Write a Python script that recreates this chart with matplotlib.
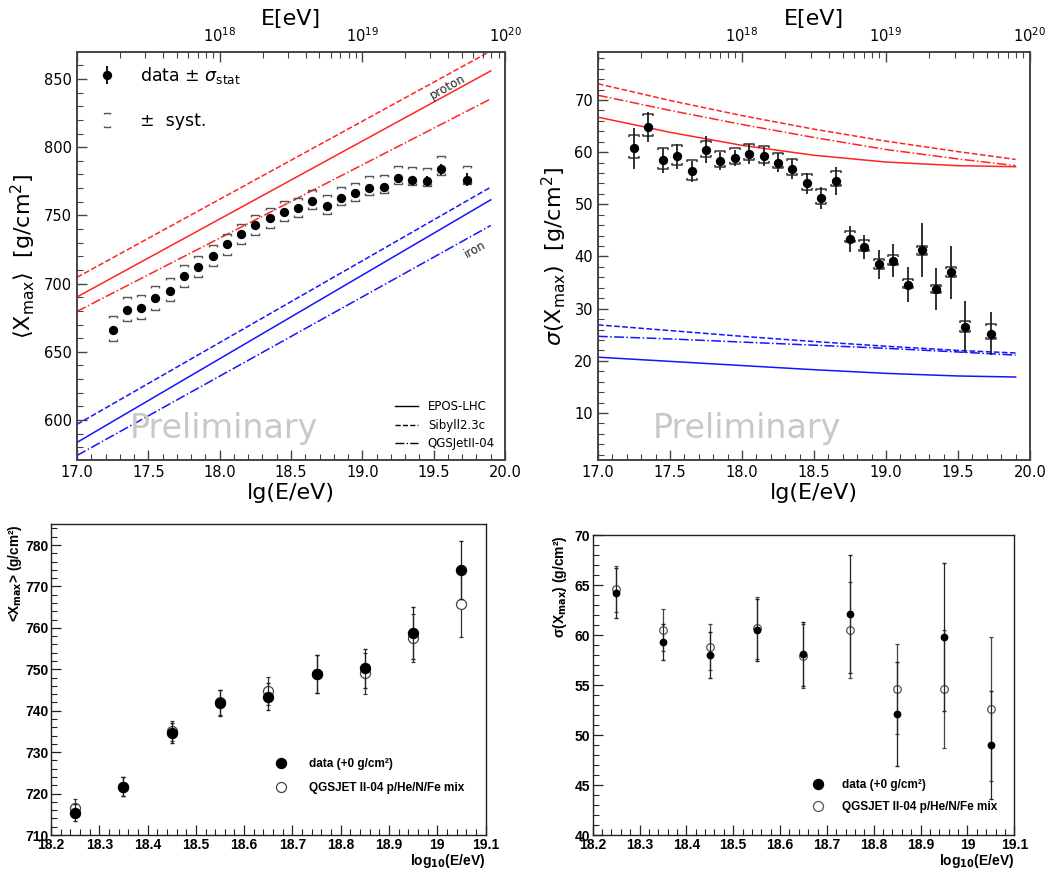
import numpy as np
import matplotlib
matplotlib.use('Agg')
import matplotlib.pyplot as plt
from matplotlib.path import Path
from matplotlib.markers import MarkerStyle
from matplotlib.lines import Line2D
from matplotlib.legend_handler import HandlerTuple
from matplotlib.ticker import MultipleLocator, FormatStrFormatter, FixedLocator

# ---------------- data: top panels ----------------
lg_E = [17.25, 17.35, 17.45, 17.55, 17.65, 17.75, 17.85, 17.95, 18.05, 18.15,
        18.25, 18.35, 18.45, 18.55, 18.65, 18.75, 18.85, 18.95, 19.05, 19.15,
        19.25, 19.35, 19.45, 19.55, 19.73]
xmax_mean = [665.9, 680.5, 682.4, 689.3, 694.9, 705.4, 712.4, 720.5, 728.8, 736.1,
             742.7, 748.0, 752.7, 755.2, 760.6, 757.0, 763.1, 766.1, 770.0, 770.5,
             777.1, 776.1, 775.4, 783.7, 776.1]
xmax_stat = [1.0, 1.0, 1.0, 1.0, 1.0, 1.0, 1.1, 1.1, 1.2, 1.3,
             1.4, 1.5, 1.6, 1.7, 1.8, 2.0, 2.1, 2.2, 2.4, 2.6,
             3.0, 3.0, 3.4, 3.8, 4.6]
xmax_sys_up = [10.2, 9.7, 9.1, 8.7, 9.0, 8.0, 7.6, 7.5, 7.5, 7.8,
               7.4, 7.6, 7.5, 7.5, 7.7, 8.1, 8.0, 7.8, 8.5, 8.8,
               8.8, 9.0, 9.3, 9.5, 10.0]
xmax_sys_lo = [8.3, 8.1, 8.0, 8.3, 7.8, 7.8, 7.3, 7.6, 7.6, 7.4,
               7.1, 7.0, 6.8, 6.4, 6.0, 5.8, 5.4, 5.4, 5.0, 4.2,
               4.4, 4.1, 3.9, 3.9, 3.2]

sigma = [60.7, 64.8, 58.4, 59.2, 56.3, 60.5, 58.3, 58.9, 59.7, 59.2,
         58.0, 56.7, 54.0, 51.2, 54.5, 43.4, 41.9, 38.5, 39.2, 34.6,
         41.2, 33.8, 37.0, 26.5, 25.2]
sigma_stat = [3.9, 2.8, 2.4, 2.4, 2.0, 2.5, 1.8, 1.6, 1.9, 1.8,
              1.8, 1.9, 2.0, 2.1, 2.7, 2.5, 2.3, 2.8, 3.1, 3.3,
              5.2, 4.0, 5.1, 5.0, 4.1]
sigma_sys_up = [2.6, 2.6, 2.3, 2.1, 2.2, 1.7, 2.0, 1.8, 1.9, 2.0,
                1.9, 2.0, 1.9, 1.8, 1.8, 1.5, 1.2, 1.1, 1.0, 1.0,
                0.9, 0.8, 0.95, 1.2, 1.9]
sigma_sys_lo = [1.9, 1.7, 1.7, 1.7, 1.7, 1.4, 1.2, 1.1, 1.2, 1.2,
                1.1, 1.1, 1.2, 1.2, 1.0, 0.6, 0.9, 0.9, 0.8, 0.6,
                1.0, 0.8, 0.85, 1.05, 1.1]

# model predictions, <Xmax> (straight lines)
model_lg = [17.0, 19.9]
xmax_p_epos = [690.2, 855.9]
xmax_p_sib = [704.6, 870.5]
xmax_p_qgs = [679.6, 835.4]
xmax_fe_epos = [583.6, 761.4]
xmax_fe_sib = [596.8, 770.7]
xmax_fe_qgs = [574.0, 742.6]

# model predictions, sigma(Xmax)
sig_lg = [17.0, 17.5, 18.0, 18.5, 19.0, 19.5, 19.9]
sig_p_epos = [66.7, 63.8, 61.3, 59.4, 58.1, 57.4, 57.2]
sig_p_sib = [73.1, 69.9, 67.0, 64.4, 62.1, 60.1, 58.6]
sig_p_qgs = [70.9, 68.0, 65.3, 62.8, 60.5, 58.7, 57.4]
sig_fe_epos = [20.7, 19.9, 19.1, 18.3, 17.6, 17.1, 16.9]
sig_fe_sib = [26.9, 25.8, 24.7, 23.7, 22.8, 22.0, 21.5]
sig_fe_qgs = [24.7, 24.2, 23.6, 23.0, 22.4, 21.7, 21.1]

# ---------------- data: bottom panels ----------------
lg_b = [18.25, 18.35, 18.45, 18.55, 18.65, 18.75, 18.85, 18.95, 19.05]
bl_data = [715.4, 721.7, 734.6, 741.9, 743.4, 748.9, 750.3, 758.7, 774.0]
bl_data_err = [2.0, 2.3, 2.4, 3.1, 3.3, 4.6, 4.7, 6.3, 7.0]
bl_mix = [716.5, 721.7, 735.2, 742.0, 744.8, 748.9, 749.0, 757.6, 765.7]
bl_mix_err = [2.1, 2.3, 2.4, 3.1, 3.4, 4.6, 4.9, 5.8, 7.9]

br_data = [64.2, 59.3, 58.0, 60.5, 58.1, 62.1, 52.1, 59.8, 49.0]
br_data_err = [2.5, 1.8, 2.3, 3.1, 3.2, 5.9, 5.2, 7.4, 5.4]
br_mix = [64.6, 60.5, 58.8, 60.7, 57.9, 60.5, 54.6, 54.6, 52.6]
br_mix_err = [2.3, 2.1, 2.3, 3.1, 3.2, 4.8, 4.5, 5.9, 7.2]

RED = '#ff2424'
BLUE = '#1414ff'
SPINE = '#444444'
SYS = '#555555'

fig = plt.figure(figsize=(10.55, 8.73), dpi=100)
axA = fig.add_axes([0.0730, 0.4731, 0.4057, 0.4674])
axB = fig.add_axes([0.5668, 0.4731, 0.4095, 0.4674])
axC = fig.add_axes([0.0483, 0.0435, 0.4120, 0.3559])
axD = fig.add_axes([0.5618, 0.0435, 0.3996, 0.3436])

up_marker = MarkerStyle(Path([(-1, -0.4), (-1, 0), (1, 0), (1, -0.4)],
                             [Path.MOVETO, Path.LINETO, Path.LINETO, Path.LINETO]))
lo_marker = MarkerStyle(Path([(-1, 0.4), (-1, 0), (1, 0), (1, 0.4)],
                             [Path.MOVETO, Path.LINETO, Path.LINETO, Path.LINETO]))
up_leg_marker = MarkerStyle(Path([(-1, 1.6), (-1, 2.0), (1, 2.0), (1, 1.6)],
                                 [Path.MOVETO, Path.LINETO, Path.LINETO, Path.LINETO]))
lo_leg_marker = MarkerStyle(Path([(-1, -1.6), (-1, -2.0), (1, -2.0), (1, -1.6)],
                                 [Path.MOVETO, Path.LINETO, Path.LINETO, Path.LINETO]))


def style_top(ax):
    ax.set_xlim(17.0, 20.0)
    for s in ax.spines.values():
        s.set_color(SPINE)
        s.set_linewidth(1.2)
    ax.xaxis.set_major_locator(MultipleLocator(0.5))
    ax.xaxis.set_minor_locator(MultipleLocator(0.1))
    ax.xaxis.set_major_formatter(FormatStrFormatter('%.1f'))
    ax.tick_params(which='both', direction='in', top=False, right=False,
                   color=SPINE, labelsize=10.5)
    ax.tick_params(which='major', length=7, width=1)
    ax.tick_params(which='minor', length=4, width=0.8)
    ax.set_xlabel('lg(E/eV)', fontsize=16, labelpad=2)
    tw = ax.twiny()
    tw.set_xscale('log')
    tw.set_xlim(10 ** 17.0, 10 ** 20.0)
    tw.xaxis.set_major_locator(FixedLocator([1e17, 1e18, 1e19, 1e20]))
    tw.set_xticklabels(['', r'$10^{18}$', r'$10^{19}$', r'$10^{20}$'])
    tw.tick_params(which='both', direction='in', color=SPINE, labelsize=10.5, pad=5)
    tw.tick_params(which='major', length=7, width=1)
    tw.tick_params(which='minor', length=4, width=0.8)
    tw.set_xlabel('E[eV]', fontsize=16, labelpad=1)
    for s in tw.spines.values():
        s.set_color(SPINE)
        s.set_linewidth(1.2)
    return tw


# ---------------- panel A: <Xmax> ----------------
twA = style_top(axA)
axA.set_ylim(570.7, 869.8)
axA.yaxis.set_major_locator(MultipleLocator(50))
axA.yaxis.set_minor_locator(MultipleLocator(10))
axA.set_ylabel(r'$\langle \mathrm{X}_{\rm max}\rangle$  [g/cm$^2$]', fontsize=16, labelpad=4)

axA.plot(model_lg, xmax_p_epos, color=RED, lw=1.1, ls='-')
axA.plot(model_lg, xmax_p_sib, color=RED, lw=1.1, ls='--')
axA.plot(model_lg, xmax_p_qgs, color=RED, lw=1.1, ls='-.')
axA.plot(model_lg, xmax_fe_epos, color=BLUE, lw=1.1, ls='-')
axA.plot(model_lg, xmax_fe_sib, color=BLUE, lw=1.1, ls='--')
axA.plot(model_lg, xmax_fe_qgs, color=BLUE, lw=1.1, ls='-.')

xm = np.array(xmax_mean)
axA.plot(lg_E, xm + np.array(xmax_sys_up), ls='none', marker=up_marker, ms=5.5,
         mfc='none', mec=SYS, mew=1.0)
axA.plot(lg_E, xm - np.array(xmax_sys_lo), ls='none', marker=lo_marker, ms=5.5,
         mfc='none', mec=SYS, mew=1.0)
ebA = axA.errorbar(lg_E, xm, yerr=xmax_stat, fmt='o', color='k', ms=5.7,
                   elinewidth=1.3, capsize=0, zorder=5)

axA.text(19.6, 844.0, 'proton', fontsize=8.5, rotation=29, ha='center', va='center',
         color='#222222')
axA.text(19.79, 725.0, 'iron', fontsize=8.5, rotation=29, ha='center', va='center',
         color='#222222')
axA.text(0.343, 0.078, 'Preliminary', transform=axA.transAxes, fontsize=24,
         color='#c8c8c8', ha='center', va='center')

sys_leg = (Line2D([], [], ls='none', marker=up_leg_marker, ms=10, mfc='none', mec=SYS, mew=1.0),
           Line2D([], [], ls='none', marker=lo_leg_marker, ms=10, mfc='none', mec=SYS, mew=1.0))
legA = axA.legend([ebA, sys_leg], ['data ± $\\sigma_{\\rm stat}$', '±  syst.'],
                  handler_map={tuple: HandlerTuple(ndivide=1, pad=0)},
                  loc='upper left', bbox_to_anchor=(0.03, 0.985), borderaxespad=0,
                  frameon=False, fontsize=12.5, handlelength=1.2, handletextpad=1.3,
                  labelspacing=1.5)
axA.add_artist(legA)
mod_handles = [Line2D([], [], color='k', lw=1.0, ls='-'),
               Line2D([], [], color='k', lw=1.0, ls='--'),
               Line2D([], [], color='k', lw=1.0, ls='-.')]
axA.legend(mod_handles, ['EPOS-LHC', 'Sibyll2.3c', 'QGSJetII-04'], loc='lower right',
           frameon=False, fontsize=8.5, handlelength=2.0, handletextpad=0.8,
           labelspacing=0.45, borderaxespad=0.45)

# ---------------- panel B: sigma(Xmax) ----------------
twB = style_top(axB)
axB.set_ylim(1.0, 79.2)
axB.yaxis.set_major_locator(MultipleLocator(10))
axB.yaxis.set_minor_locator(MultipleLocator(2))
axB.set_ylabel(r'$\sigma(\mathrm{X}_{\rm max})$  [g/cm$^2$]', fontsize=16, labelpad=4)

axB.plot(sig_lg, sig_p_epos, color=RED, lw=1.1, ls='-')
axB.plot(sig_lg, sig_p_sib, color=RED, lw=1.1, ls='--')
axB.plot(sig_lg, sig_p_qgs, color=RED, lw=1.1, ls='-.')
axB.plot(sig_lg, sig_fe_epos, color=BLUE, lw=1.1, ls='-')
axB.plot(sig_lg, sig_fe_sib, color=BLUE, lw=1.1, ls='--')
axB.plot(sig_lg, sig_fe_qgs, color=BLUE, lw=1.1, ls='-.')

sg = np.array(sigma)
axB.plot(lg_E, sg + np.array(sigma_sys_up), ls='none', marker=up_marker, ms=7.5,
         mfc='none', mec='#333333', mew=1.1)
axB.plot(lg_E, sg - np.array(sigma_sys_lo), ls='none', marker=lo_marker, ms=7.5,
         mfc='none', mec='#333333', mew=1.1)
axB.errorbar(lg_E, sg, yerr=sigma_stat, fmt='o', color='k', ms=5.7,
             elinewidth=1.3, ecolor='#222222', capsize=0, zorder=5)
axB.text(0.345, 0.078, 'Preliminary', transform=axB.transAxes, fontsize=24,
         color='#c8c8c8', ha='center', va='center')

# ---------------- bottom panels (ROOT style) ----------------
BF = dict(family='Liberation Sans', weight='bold')


def style_bottom(ax):
    ax.set_xlim(18.2, 19.1)
    for s in ax.spines.values():
        s.set_color('#222222')
        s.set_linewidth(1.0)
    ax.xaxis.set_major_locator(MultipleLocator(0.1))
    ax.xaxis.set_minor_locator(MultipleLocator(0.02))
    ax.xaxis.set_major_formatter(FormatStrFormatter('%g'))
    ax.tick_params(which='both', direction='in', top=False, right=False,
                   color='#222222', labelsize=10, pad=2)
    ax.tick_params(which='major', length=7, width=0.9)
    ax.tick_params(which='minor', length=4, width=0.8)
    for lab in ax.get_xticklabels() + ax.get_yticklabels():
        lab.set_fontfamily('Liberation Sans')
        lab.set_fontweight('bold')
    ax.set_xlabel(r'log$_{\mathbf{10}}$(E/eV)', loc='right', fontsize=10, labelpad=0, **BF)


style_bottom(axC)
axC.set_ylim(710, 785)
axC.yaxis.set_major_locator(MultipleLocator(10))
axC.yaxis.set_minor_locator(MultipleLocator(2))
for lab in axC.get_yticklabels():
    lab.set_fontfamily('Liberation Sans')
    lab.set_fontweight('bold')
axC.set_ylabel(r'<X$_{\mathbf{max}}$> (g/cm²)', loc='top', fontsize=9.8, labelpad=1, **BF)
axC.errorbar(lg_b, bl_mix, yerr=bl_mix_err, fmt='o', ms=7.2, mfc='white', mec='#444444',
             mew=0.9, ecolor='#333333', elinewidth=0.9, capsize=1.2, zorder=3)
axC.errorbar(lg_b, bl_data, yerr=bl_data_err, fmt='o', ms=7.2, color='k',
             ecolor='#222222', elinewidth=0.9, capsize=1.2, zorder=4)
hC1 = Line2D([], [], ls='none', marker='o', ms=7.2, color='k')
hC2 = Line2D([], [], ls='none', marker='o', ms=7.2, mfc='white', mec='#444444', mew=0.9)
axC.legend([hC1, hC2], ['data (+0 g/cm²)', 'QGSJET II-04 p/He/N/Fe mix'],
           loc='upper left', bbox_to_anchor=(0.505, 0.262), borderaxespad=0,
           frameon=False, handlelength=1.0, handletextpad=1.85, labelspacing=1.0,
           prop=dict(family='Liberation Sans', weight='bold', size=8.5))

style_bottom(axD)
axD.set_ylim(40, 70)
axD.yaxis.set_major_locator(MultipleLocator(5))
axD.yaxis.set_minor_locator(MultipleLocator(1))
for lab in axD.get_yticklabels():
    lab.set_fontfamily('Liberation Sans')
    lab.set_fontweight('bold')
axD.set_ylabel(r'σ(X$_{\mathbf{max}}$) (g/cm²)', loc='top', fontsize=10, labelpad=4, **BF)
axD.errorbar(lg_b, br_mix, yerr=br_mix_err, fmt='o', ms=5.5, mfc='white', mec='#555555',
             mew=0.9, ecolor='#444444', elinewidth=0.9, capsize=1.2, zorder=3)
axD.errorbar(lg_b, br_data, yerr=br_data_err, fmt='o', ms=4.6, color='k',
             ecolor='#222222', elinewidth=0.9, capsize=1.2, zorder=4)
hD1 = Line2D([], [], ls='none', marker='o', ms=7.2, color='k')
hD2 = Line2D([], [], ls='none', marker='o', ms=7.2, mfc='white', mec='#555555', mew=0.9)
axD.legend([hD1, hD2], ['data (+0 g/cm²)', 'QGSJET II-04 p/He/N/Fe mix'],
           loc='upper left', bbox_to_anchor=(0.51, 0.203), borderaxespad=0,
           frameon=False, handlelength=1.0, handletextpad=1.5, labelspacing=0.9,
           prop=dict(family='Liberation Sans', weight='bold', size=8.5))

fig.savefig('out.png', dpi=100)
